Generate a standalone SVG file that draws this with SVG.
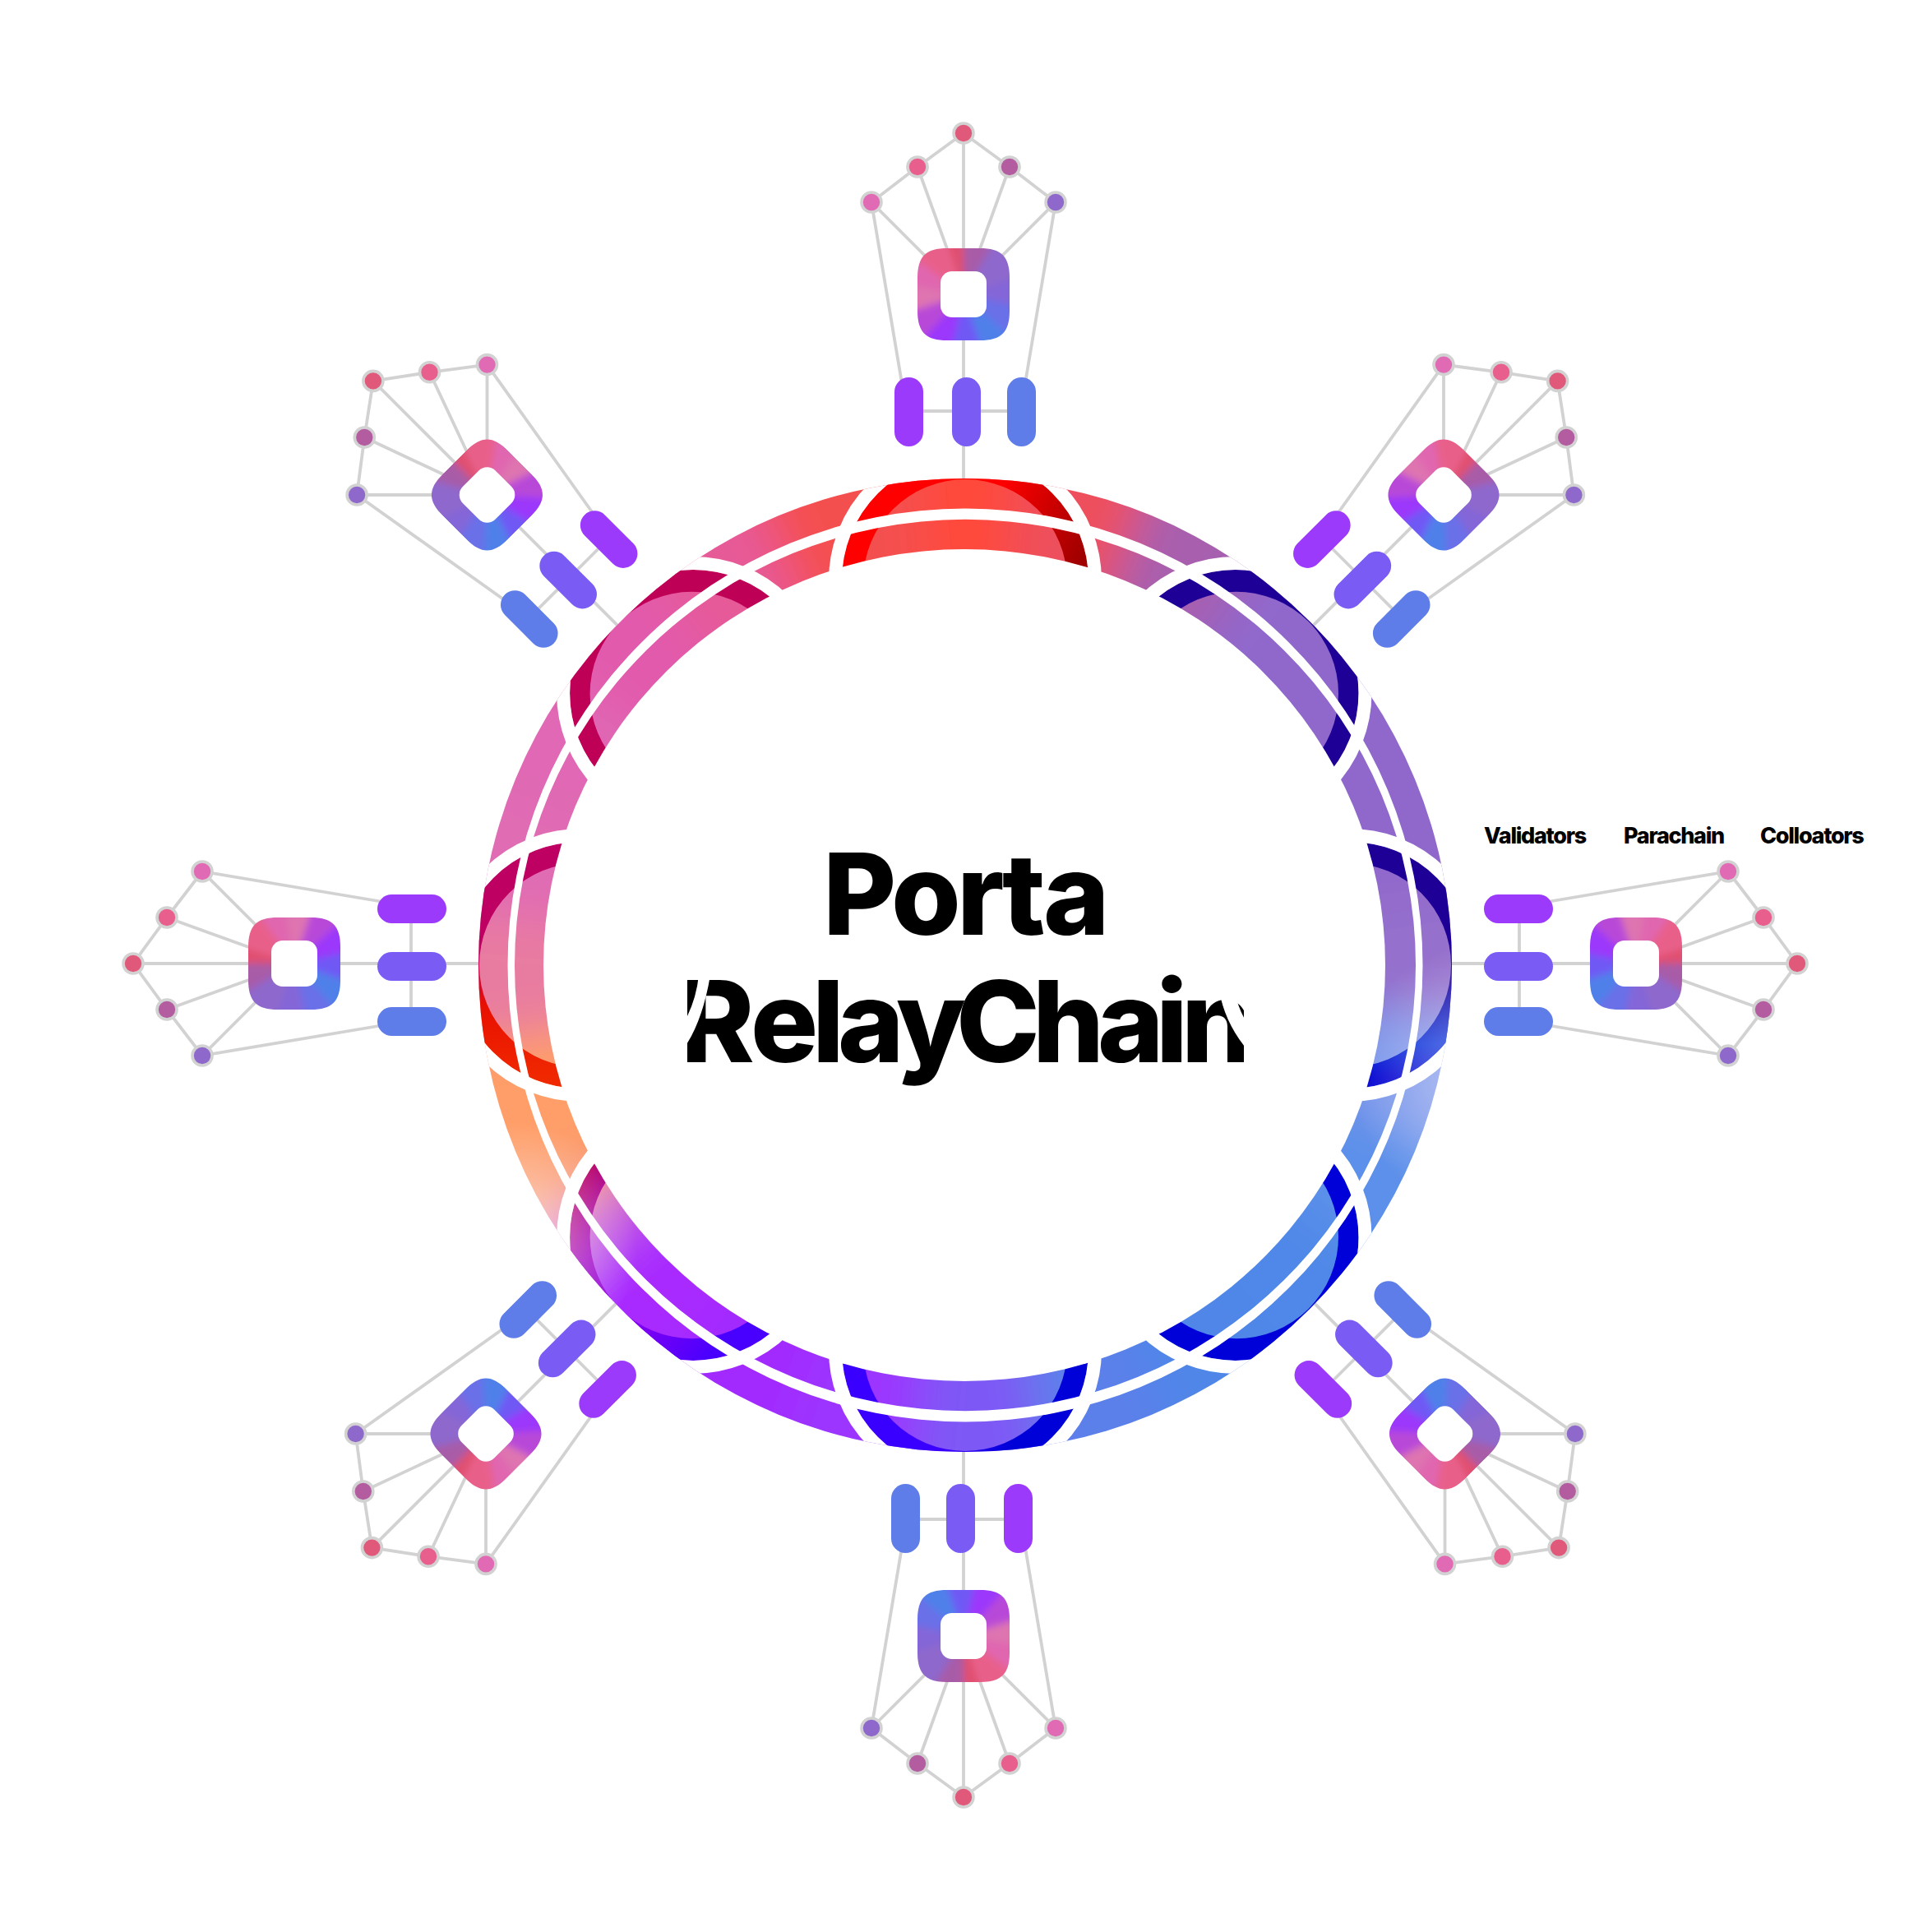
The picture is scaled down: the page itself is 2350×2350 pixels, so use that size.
<svg xmlns="http://www.w3.org/2000/svg" xmlns:xlink="http://www.w3.org/1999/xlink" width="2350" height="2350" viewBox="0 0 2350 2350">
<style>
.ln{stroke:#d2d2d2;stroke-width:3.8;fill:none}
.c{stroke:#d2d2d2;stroke-width:3.6}
.w{fill:none;stroke-width:400}
.iw{fill:none;stroke-width:120}
.lab{font-family:Inter,"Liberation Sans",sans-serif;font-weight:800;font-size:27px;letter-spacing:-1.3px;fill:#000}
.big{font-family:Inter,"Liberation Sans",sans-serif;font-weight:800;font-size:137px;fill:#000}
.gap{fill:none;stroke:#fff;stroke-width:16}
</style>
<defs>
<clipPath id="disk"><circle cx="1174" cy="1174" r="592"/></clipPath>
<clipPath id="sq"><path d="M-56-20C-56-46-46-56-20-56H20C46-56 56-46 56-20V20C56 46 46 56 20 56H-20C-46 56-56 46-56 20Z"/></clipPath>
<clipPath id="tc"><rect x="836" y="1170" width="677" height="170"/></clipPath>
<filter id="bl" filterUnits="userSpaceOnUse" x="-1200" y="-1200" width="2400" height="2400"><feGaussianBlur stdDeviation="28"/></filter>
<filter id="ib" filterUnits="userSpaceOnUse" x="-130" y="-130" width="260" height="260"><feGaussianBlur stdDeviation="4.5"/></filter>
<linearGradient id="j-n" gradientUnits="userSpaceOnUse" x1="1100" y1="590" x2="1310" y2="690"><stop offset=".45" stop-color="#f00"/><stop offset="1" stop-color="#a00000"/></linearGradient>
<linearGradient id="j-e" gradientUnits="userSpaceOnUse" x1="0" y1="1040" x2="0" y2="1310"><stop offset=".55" stop-color="#1e0096"/><stop offset=".85" stop-color="#0028d8"/><stop offset="1" stop-color="#0000d0"/></linearGradient>
<linearGradient id="j-s" gradientUnits="userSpaceOnUse" x1="1040" y1="0" x2="1310" y2="0"><stop offset=".4" stop-color="#3a00ff"/><stop offset=".7" stop-color="#0000d8"/></linearGradient>
<linearGradient id="j-sw" gradientUnits="userSpaceOnUse" x1="700" y1="1400" x2="980" y2="1620"><stop offset="0" stop-color="#c00040"/><stop offset=".25" stop-color="#a000c0"/><stop offset=".5" stop-color="#8800f0"/><stop offset=".8" stop-color="#4800ff"/></linearGradient>
<linearGradient id="j-w" gradientUnits="userSpaceOnUse" x1="0" y1="1040" x2="0" y2="1310"><stop offset=".45" stop-color="#be0062"/><stop offset=".68" stop-color="#e81000"/><stop offset="1" stop-color="#f02800"/></linearGradient>
<radialGradient id="fade"><stop offset="0" stop-color="#fff" stop-opacity=".62"/><stop offset="1" stop-color="#fff" stop-opacity="0"/></radialGradient>
<radialGradient id="fade2"><stop offset="0" stop-color="#fff" stop-opacity=".5"/><stop offset="1" stop-color="#fff" stop-opacity="0"/></radialGradient>
<g id="lines" class="ln">
<path d="M-112-112L-56-155L0-196L56-155L112-112"/>
<path d="M0-196V226M-112-112L0 0M-56-155L0 0M56-155L0 0M112-112L0 0M-112-112L-73 120M112-112L73 120M-66 142H70"/>
</g>
<g id="icon">
<g clip-path="url(#sq)"><g filter="url(#ib)">
<circle class="iw" r="60" pathLength="360" stroke-dasharray="46 314" transform="rotate(-116)" stroke="#e05070"/>
<circle class="iw" r="60" pathLength="360" stroke-dasharray="46 314" transform="rotate(-90)" stroke="#a85ca8"/>
<circle class="iw" r="60" pathLength="360" stroke-dasharray="46 314" transform="rotate(-60)" stroke="#8e68cc"/>
<circle class="iw" r="60" pathLength="360" stroke-dasharray="46 314" transform="rotate(-18)" stroke="#8466d8"/>
<circle class="iw" r="60" pathLength="360" stroke-dasharray="46 314" transform="rotate(12)" stroke="#6a70e8"/>
<circle class="iw" r="60" pathLength="360" stroke-dasharray="46 314" transform="rotate(42)" stroke="#4f80ea"/>
<circle class="iw" r="60" pathLength="360" stroke-dasharray="46 314" transform="rotate(72)" stroke="#7058f5"/>
<circle class="iw" r="60" pathLength="360" stroke-dasharray="46 314" transform="rotate(102)" stroke="#9b38fb"/>
<circle class="iw" r="60" pathLength="360" stroke-dasharray="46 314" transform="rotate(132)" stroke="#b848d8"/>
<circle class="iw" r="60" pathLength="360" stroke-dasharray="46 314" transform="rotate(162)" stroke="#de74b0"/>
<circle class="iw" r="60" pathLength="360" stroke-dasharray="46 314" transform="rotate(190)" stroke="#e066b0"/>
<circle class="iw" r="60" pathLength="360" stroke-dasharray="36 324" transform="rotate(216)" stroke="#e8608a"/>
</g></g>
<rect x="-28" y="-28" width="56" height="56" rx="14" fill="#fff"/>
</g>
<g id="unit">
<use href="#icon"/>
<rect x="-84" y="101" width="35" height="84" rx="17.5" fill="#9c3afb"/>
<rect x="-14" y="101" width="35" height="84" rx="17.5" fill="#7a5cf5"/>
<rect x="53" y="101" width="35" height="84" rx="17.5" fill="#5f7de9"/>
<circle class="c" cx="0" cy="-196" r="12" fill="#e0587a"/>
<circle class="c" cx="-56" cy="-155" r="12" fill="#e85e8c"/>
<circle class="c" cx="-112" cy="-112" r="12" fill="#e06ab4"/>
<circle class="c" cx="56" cy="-155" r="12" fill="#b35ca0"/>
<circle class="c" cx="112" cy="-112" r="12" fill="#8f68cc"/>
</g>
</defs>
<g id="connectors">
<use href="#lines" transform="translate(1172 358)"/>
<use href="#lines" transform="translate(1756 602) rotate(45)"/>
<use href="#lines" transform="translate(1990 1172) rotate(90)"/>
<use href="#lines" transform="translate(1757.500 1744) scale(1 -1) rotate(45)"/>
<use href="#lines" transform="translate(1172 1990) rotate(180)"/>
<use href="#lines" transform="translate(591 1744) scale(-1 -1) rotate(45)"/>
<use href="#lines" transform="translate(358 1172) scale(-1 1) rotate(90)"/>
<use href="#lines" transform="translate(592.500 602) scale(-1 1) rotate(45)"/>
</g>
<g id="cluster-n" transform="translate(1172 358)"><use href="#unit"/></g>
<g id="cluster-ne" transform="translate(1756 602) rotate(45)"><use href="#unit"/></g>
<g id="cluster-e" transform="translate(1990 1172) rotate(90)"><use href="#unit"/></g>
<g id="cluster-se" transform="translate(1757.500 1744) scale(1 -1) rotate(45)"><use href="#unit"/></g>
<g id="cluster-s" transform="translate(1172 1990) rotate(180)"><use href="#unit"/></g>
<g id="cluster-sw" transform="translate(591 1744) scale(-1 -1) rotate(45)"><use href="#unit"/></g>
<g id="cluster-w" transform="translate(358 1172) scale(-1 1) rotate(90)"><use href="#unit"/></g>
<g id="cluster-nw" transform="translate(592.500 602) scale(-1 1) rotate(45)"><use href="#unit"/></g>
<g id="relay-ring" clip-path="url(#disk)">
<g filter="url(#bl)" transform="translate(1174 1174)">
<circle class="w" r="550" pathLength="360" stroke-dasharray="19 341" transform="rotate(-99)" stroke="#ff4a3a"/>
<circle class="w" r="550" pathLength="360" stroke-dasharray="19 341" transform="rotate(-84)" stroke="#ee4f5c"/>
<circle class="w" r="550" pathLength="360" stroke-dasharray="19 341" transform="rotate(-69)" stroke="#a85eae"/>
<circle class="w" r="550" pathLength="360" stroke-dasharray="19 341" transform="rotate(-54)" stroke="#9068cc"/>
<circle class="w" r="550" pathLength="360" stroke-dasharray="19 341" transform="rotate(-39)" stroke="#9068cc"/>
<circle class="w" r="550" pathLength="360" stroke-dasharray="19 341" transform="rotate(-24)" stroke="#9068cc"/>
<circle class="w" r="550" pathLength="360" stroke-dasharray="19 341" transform="rotate(-9)" stroke="#9570cc"/>
<circle class="w" r="550" pathLength="360" stroke-dasharray="19 341" transform="rotate(6)" stroke="#7a94ea"/>
<circle class="w" r="550" pathLength="360" stroke-dasharray="19 341" transform="rotate(21)" stroke="#5c90ea"/>
<circle class="w" r="550" pathLength="360" stroke-dasharray="19 341" transform="rotate(36)" stroke="#4f88e8"/>
<circle class="w" r="550" pathLength="360" stroke-dasharray="19 341" transform="rotate(51)" stroke="#5086e8"/>
<circle class="w" r="550" pathLength="360" stroke-dasharray="19 341" transform="rotate(66)" stroke="#5c80ea"/>
<circle class="w" r="550" pathLength="360" stroke-dasharray="19 341" transform="rotate(81)" stroke="#7e58f5"/>
<circle class="w" r="550" pathLength="360" stroke-dasharray="19 341" transform="rotate(96)" stroke="#9b35ff"/>
<circle class="w" r="550" pathLength="360" stroke-dasharray="19 341" transform="rotate(111)" stroke="#a22cff"/>
<circle class="w" r="550" pathLength="360" stroke-dasharray="19 341" transform="rotate(126)" stroke="#a82cff"/>
<circle class="w" r="550" pathLength="360" stroke-dasharray="19 341" transform="rotate(141)" stroke="#c860d8"/>
<circle class="w" r="550" pathLength="360" stroke-dasharray="19 341" transform="rotate(148)" stroke="#fb9c70"/>
<circle class="w" r="550" pathLength="360" stroke-dasharray="19 341" transform="rotate(156)" stroke="#ff9e68"/>
<circle class="w" r="550" pathLength="360" stroke-dasharray="19 341" transform="rotate(171)" stroke="#e87ca0"/>
<circle class="w" r="550" pathLength="360" stroke-dasharray="19 341" transform="rotate(186)" stroke="#e06cb4"/>
<circle class="w" r="550" pathLength="360" stroke-dasharray="19 341" transform="rotate(201)" stroke="#e068b4"/>
<circle class="w" r="550" pathLength="360" stroke-dasharray="19 341" transform="rotate(216)" stroke="#e25aac"/>
<circle class="w" r="550" pathLength="360" stroke-dasharray="19 341" transform="rotate(231)" stroke="#e65a98"/>
<circle class="w" r="550" pathLength="360" stroke-dasharray="19 341" transform="rotate(246)" stroke="#f45050"/>
</g>
<g fill-rule="evenodd">
<path fill="url(#j-n)" d="M1024 706a150 150 0 1 0 300 0a150 150 0 1 0-300 0ZM1050 707a124 124 0 1 0 248 0a124 124 0 1 0-248 0Z"/>
<path fill="#1e0096" d="M1352.500 843.100a150 150 0 1 0 300 0a150 150 0 1 0-300 0ZM1380 843.800a124 124 0 1 0 248 0a124 124 0 1 0-248 0Z"/>
<path fill="url(#j-e)" d="M1492 1174a150 150 0 1 0 300 0a150 150 0 1 0-300 0ZM1517 1174a124 124 0 1 0 248 0a124 124 0 1 0-248 0Z"/>
<path fill="#0000d8" d="M1352.500 1504.900a150 150 0 1 0 300 0a150 150 0 1 0-300 0ZM1380 1504.200a124 124 0 1 0 248 0a124 124 0 1 0-248 0Z"/>
<path fill="url(#j-s)" d="M1024 1642a150 150 0 1 0 300 0a150 150 0 1 0-300 0ZM1050 1641a124 124 0 1 0 248 0a124 124 0 1 0-248 0Z"/>
<path fill="url(#j-sw)" d="M693.100 1504.900a150 150 0 1 0 300 0a150 150 0 1 0-300 0ZM717.600 1504.200a124 124 0 1 0 248 0a124 124 0 1 0-248 0Z"/>
<path fill="url(#j-w)" d="M556 1174a150 150 0 1 0 300 0a150 150 0 1 0-300 0ZM583 1174a124 124 0 1 0 248 0a124 124 0 1 0-248 0Z"/>
<path fill="#be0056" d="M693.100 843.100a150 150 0 1 0 300 0a150 150 0 1 0-300 0ZM717.600 843.800a124 124 0 1 0 248 0a124 124 0 1 0-248 0Z"/>
</g>
<circle cx="625" cy="1515" r="150" fill="url(#fade)"/>
<circle cx="1810" cy="1310" r="165" fill="url(#fade2)"/>
<circle class="gap" cx="1174" cy="706" r="158"/>
<circle class="gap" cx="1502.500" cy="843.100" r="158"/>
<circle class="gap" cx="1642" cy="1174" r="158"/>
<circle class="gap" cx="1502.500" cy="1504.900" r="158"/>
<circle class="gap" cx="1174" cy="1642" r="158"/>
<circle class="gap" cx="843.100" cy="1504.900" r="158"/>
<circle class="gap" cx="706" cy="1174" r="158"/>
<circle class="gap" cx="843.100" cy="843.100" r="158"/>
<path fill="#fff" fill-rule="evenodd" d="M617.500 1174a556.500 555.500 0 1 0 1113 0a556.500 555.500 0 1 0-1113 0ZM626 1174a548 542 0 1 0 1096 0a548 542 0 1 0-1096 0Z"/>
<ellipse cx="1173" cy="1174" rx="512" ry="506" fill="#fff"/>
</g>
<g id="title">
<text class="big" x="1001 1084 1164 1219 1269" y="1137">Porta</text>
<g clip-path="url(#tc)">
<text class="big" x="827 913 988 1019 1090 1163 1256 1335 1406 1437" y="1292">RelayChain</text>
<path fill="#fff" d="M850 1186Q847 1215 834 1240L834 1272Q855 1240 864 1186Z"/>
<path fill="#fff" d="M1483 1205Q1490 1245 1518 1278L1518 1246Q1508 1232 1501 1205Z"/>
</g>
</g>
<g id="labels">
<text class="lab" x="1805" y="1026">Validators</text>
<text class="lab" x="1975" y="1026">Parachain</text>
<text class="lab" x="2141" y="1026">Colloators</text>
</g>
</svg>
